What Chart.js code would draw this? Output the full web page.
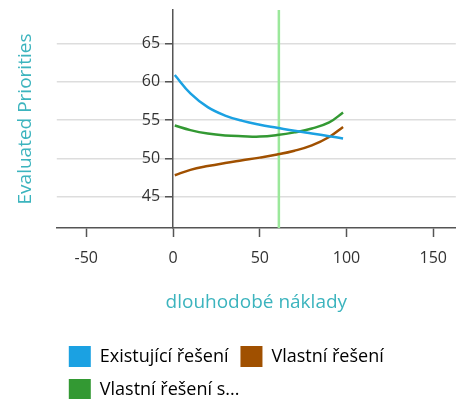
<!DOCTYPE html>
<html>
<head>
<meta charset="utf-8">
<script src="https://cdn.jsdelivr.net/npm/chart.js@4/dist/chart.umd.min.js"></script>
<style>
  html, body { margin: 0; padding: 0; background: #ffffff; overflow: hidden; }
  #wrap { width: 459px; height: 399px; position: relative; }
</style>
</head>
<body>
<div id="wrap"><canvas id="chart"></canvas></div>
<script>
// Long-term cost levels (x) at which each alternative's priority was evaluated
const costLevels = [1, 10, 20, 30, 40, 50, 60, 70, 80, 90, 98];

// Evaluated priorities per alternative
const existingSolution = [60.9, 58.5, 56.7, 55.6, 54.9, 54.4, 54.0, 53.6, 53.25, 52.9, 52.6];
const ownSolution      = [47.8, 48.5, 49.0, 49.4, 49.75, 50.1, 50.5, 51.0, 51.7, 52.8, 54.1];
const ownSolutionS     = [54.3, 53.7, 53.25, 53.0, 52.9, 52.85, 53.05, 53.4, 53.9, 54.7, 56.0];

const seriesNames = ['Existující řešení', 'Vlastní řešení', 'Vlastní řešení s...'];
const seriesColors = ['#1ba1e2', '#a05000', '#339933'];

// Axis ticks and bounds
const xTickValues = [-50, 0, 50, 100, 150];
const yTickValues = [45, 50, 55, 60, 65];
const xBounds = [-67, 163];
const yBounds = [40.9, 69.4];

// Current value of the criterion (vertical marker)
const currentCost = 61;

const xTitle = 'dlouhodobé náklady';
const yTitle = 'Evaluated Priorities';

const FONT = '"Open Sans", "Noto Sans", sans-serif';
const TEAL = '#3cb4be';
const AXIS = '#555555';
const TEXT = '#333333';

const toPoints = (vals) => vals.map((v, i) => ({ x: costLevels[i], y: v }));

const seriesData = [existingSolution, ownSolution, ownSolutionS];

const datasets = seriesData.map((vals, i) => ({
  label: seriesNames[i],
  data: toPoints(vals),
  borderColor: seriesColors[i],
  backgroundColor: seriesColors[i],
  borderWidth: 2.5,
  pointRadius: 0,
  tension: 0.4,
  fill: false
}));

datasets.push({
  label: '__marker',
  data: [{ x: currentCost, y: yBounds[0] }, { x: currentCost, y: yBounds[1] }],
  borderColor: '#9be89b',
  borderWidth: 2.5,
  pointRadius: 0,
  fill: false,
  order: 10
});

// The value axis crosses at x = 0; keep its labels clear of the tick marks.
const yLabelGap = {
  id: 'yLabelGap',
  beforeDraw(chart) {
    const items = chart.scales.y.getLabelItems();
    items.forEach((it) => {
      if (!it._gapApplied) {
        it.options.translation[0] -= 13;
        it._gapApplied = true;
      }
    });
  }
};

new Chart(document.getElementById('chart'), {
  type: 'line',
  data: { datasets },
  plugins: [yLabelGap],
  options: {
    responsive: true,
    maintainAspectRatio: false,
    animation: false,
    layout: { padding: { left: 12, right: 0, top: 10, bottom: -11 } },
    plugins: {
      tooltip: { enabled: false },
      legend: {
        position: 'bottom',
        align: 'start',
        fullSize: false,
        labels: {
          boxWidth: 22,
          boxHeight: 21,
          padding: 12,
          color: TEXT,
          font: { family: FONT, size: 18 },
          generateLabels: () => seriesNames.map((name, i) => ({
            text: name,
            fillStyle: seriesColors[i],
            strokeStyle: seriesColors[i],
            lineWidth: 0,
            datasetIndex: i,
            hidden: false
          }))
        }
      }
    },
    scales: {
      x: {
        type: 'linear',
        position: 'bottom',
        min: xBounds[0],
        max: xBounds[1],
        afterBuildTicks: (axis) => { axis.ticks = xTickValues.map(v => ({ value: v })); },
        grid: { drawOnChartArea: false, drawTicks: true, tickLength: 9, tickColor: AXIS, tickWidth: 1.5 },
        border: { display: true, color: AXIS, width: 1.5 },
        ticks: { color: TEXT, font: { family: FONT, size: 16 }, padding: 12, maxRotation: 0 },
        title: {
          display: true,
          text: xTitle,
          color: TEAL,
          font: { family: FONT, size: 19 },
          padding: { top: 11, bottom: 20 }
        }
      },
      yTitleAxis: {
        type: 'linear',
        position: 'left',
        min: yBounds[0],
        max: yBounds[1],
        ticks: { display: false },
        grid: { display: false, drawTicks: false },
        border: { display: false },
        title: {
          display: true,
          text: yTitle,
          color: TEAL,
          font: { family: FONT, size: 19 },
          padding: { top: 2, bottom: 20 }
        }
      },
      y: {
        type: 'linear',
        position: { x: 0 },
        min: yBounds[0],
        max: yBounds[1],
        afterBuildTicks: (axis) => { axis.ticks = yTickValues.map(v => ({ value: v })); },
        afterFit: (axis) => { axis.paddingTop = 0; axis.paddingBottom = 0; },
        grid: { color: '#dddddd', lineWidth: 1.5, drawTicks: true, tickLength: 7, tickColor: AXIS, tickWidth: 1.5 },
        border: { display: true, color: AXIS, width: 1.5 },
        ticks: { color: TEXT, font: { family: FONT, size: 16 }, padding: 4 }
      }
    }
  }
});
</script>
</body>
</html>
